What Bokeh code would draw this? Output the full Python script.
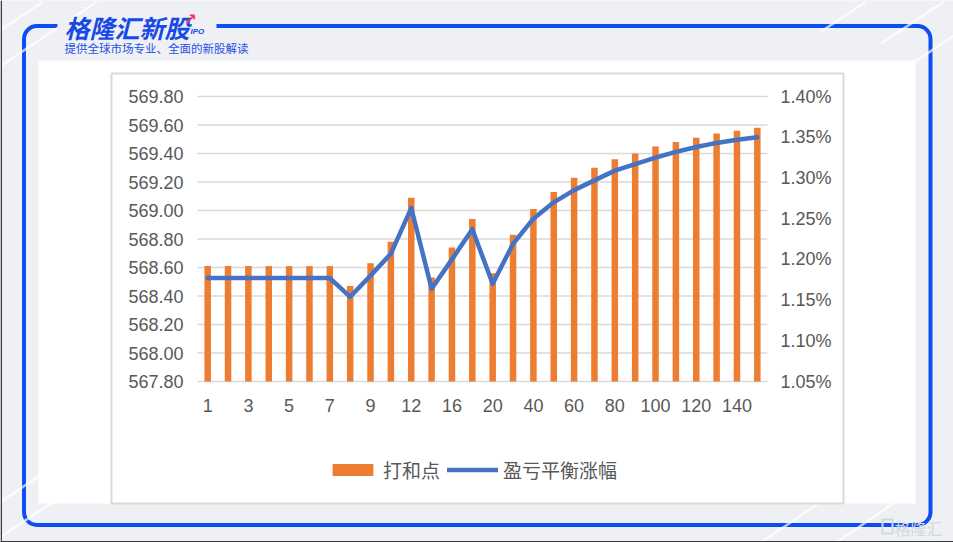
from bokeh.plotting import figure
from bokeh.models import (Range1d, LinearAxis, FixedTicker, PrintfTickFormatter, NumeralTickFormatter,
                          BoxAnnotation, Legend, LegendItem, ColumnDataSource)
from bokeh.core.properties import value
from bokeh.embed import file_html
from bokeh.resources import INLINE

# ---------------- data ----------------
categories = ["1", "2", "3", "4", "5", "6", "7", "8", "9", "10", "12", "14", "16", "18", "20",
              "30", "40", "50", "60", "70", "80", "90", "100", "110", "120", "130", "140", "150"]
break_even = [568.61, 568.61, 568.61, 568.61, 568.61, 568.61, 568.61, 568.47, 568.63, 568.78,
              569.09, 568.53, 568.74, 568.94, 568.56, 568.83, 569.01, 569.13, 569.23, 569.30,
              569.36, 569.40, 569.45, 569.48, 569.51, 569.54, 569.56, 569.58]
breakeven_pct = [1.177, 1.177, 1.177, 1.177, 1.177, 1.177, 1.177, 1.154, 1.180, 1.207,
                 1.263, 1.164, 1.200, 1.237, 1.170, 1.219, 1.250, 1.270, 1.285, 1.297,
                 1.309, 1.317, 1.325, 1.332, 1.338, 1.343, 1.347, 1.350]
left_ticks = [567.8, 568.0, 568.2, 568.4, 568.6, 568.8, 569.0, 569.2, 569.4, 569.6, 569.8]
right_ticks = [1.05, 1.10, 1.15, 1.20, 1.25, 1.30, 1.35, 1.40]
x_label_idx = list(range(0, len(categories), 2))
series_names = ["打和点", "盈亏平衡涨幅"]
logo_title = "格隆汇新股"
logo_sub = "提供全球市场专业、全面的新股解读"
watermark = "格隆汇"

# ---------------- page geometry ----------------
W, H = 953, 542
FL, FR, FT, FB = 197, 767, 96, 381          # plot area of the chart, in page pixels
BG = "#eef0f3"
GRAY_TXT = "#595959"
FONT = "Liberation Sans"
CJK = "Noto Sans CJK SC"

n = len(categories)
x0, x1 = -0.5, n - 0.5
y0, y1 = left_ticks[0], left_ticks[-1]
r0, r1 = right_ticks[0], right_ticks[-1]
kx = (x1 - x0) / (FR - FL)
ky = (y1 - y0) / (FB - FT)
kr = (r1 - r0) / (FB - FT)

p = figure(width=W, height=H, output_backend="svg", toolbar_location=None, title=None,
           x_range=Range1d(x0 - FL * kx, x1 + (W - FR) * kx),
           y_range=Range1d(y0 - (H - FB) * ky, y1 + FT * ky),
           min_border=0)
p.extra_x_ranges = {"px": Range1d(0, W)}
p.extra_y_ranges = {"py": Range1d(H, 0), "pct": Range1d(r0 - (H - FB) * kr, r1 + FT * kr)}
p.border_fill_color = BG
p.background_fill_color = BG
p.outline_line_color = None
p.xgrid.visible = False
p.ygrid.visible = False

PX = dict(x_range_name="px", y_range_name="py", level="underlay")

# ---------- page decoration (pixel coordinates) ----------
stripes = [(0, 28, 42, 0), (0, 64, 96, 0), (0, 500, 40, 473), (0, 535, 90, 475),
           (820, 30, 865, 0), (880, 42, 943, 0), (905, 66, 953, 34),
           (760, 541, 820, 500), (835, 541, 895, 500)]
p.patches(xs=[[a, c, c, a] for (a, b, c, d) in stripes],
          ys=[[b, d, d + 3, b + 3] for (a, b, c, d) in stripes],
          fill_color="white", fill_alpha=0.7, line_color=None, **PX)

p.add_layout(BoxAnnotation(left=23.5, right=930, top=H - 25.5, bottom=H - 524.5, border_radius=13,
                           left_units="screen", right_units="screen", top_units="screen",
                           bottom_units="screen", fill_alpha=0, line_color="#0d4df2",
                           line_alpha=1, line_width=4, level="image"))
p.quad(left=[38], right=[915], top=[60], bottom=[503], fill_color="white", line_color=None, **PX)
p.quad(left=[57], right=[216], top=[17], bottom=[34], fill_color=BG, line_color=None, **PX)
p.quad(left=[111], right=[843], top=[73], bottom=[503], fill_color="white",
       line_color="#d9d9d9", line_width=2, **PX)

p.text(x=[64], y=[26], text=[logo_title], text_font=value(CJK), text_font_style="bold italic",
       text_font_size="25px", text_color="#1749e6", text_baseline="middle", **PX)
p.text(x=[190], y=[31], text=["IPO"], text_font=value(FONT), text_font_style="bold italic",
       text_font_size="8px", text_color="#1749e6", text_baseline="middle", **PX)
p.text(x=[183], y=[19], text=["↗"], text_font=value("DejaVu Sans"), text_font_style="bold",
       text_font_size="16px", text_color="#f5356a", text_baseline="middle", **PX)
p.text(x=[64], y=[47.5], text=[logo_sub], text_font=value(CJK), text_font_size="11.5px",
       text_color="#1f4fe6", text_baseline="middle", **PX)
p.quad(left=[882], right=[892], top=[519], bottom=[533], fill_alpha=0, line_color="#d3d7de",
       line_width=2, **PX)
p.text(x=[894], y=[527], text=[watermark], text_font=value(CJK), text_font_size="16px",
       text_color="#d3d7de", text_baseline="middle", **PX)
p.quad(left=[0, 0], right=[1.5, W], top=[0, 540.5], bottom=[H, H], fill_color="#3a3a3a",
       line_color=None, **PX)

# ---------------- chart marks ----------------
src = ColumnDataSource(dict(x=list(range(n)), top=break_even, pct=breakeven_pct))

p.segment(x0=x0, x1=x1, y0=left_ticks, y1=left_ticks, line_color="#d9d9d9", line_width=1.5)
bars = p.vbar(x="x", top="top", bottom=y0, width=0.32, source=src,
              fill_color="#ed7d31", line_color=None)
line = p.line(x="x", y="pct", source=src, y_range_name="pct", line_width=4.5,
              line_color="#4472c4", line_join="round", line_cap="round")

# ---------------- axes ----------------
p.xaxis.ticker = FixedTicker(ticks=x_label_idx)
p.xaxis.major_label_overrides = {i: categories[i] for i in x_label_idx}
p.xaxis.fixed_location = y0
p.yaxis.ticker = FixedTicker(ticks=left_ticks)
p.yaxis.formatter = NumeralTickFormatter(format="0.00")
p.yaxis.fixed_location = x0
rax = LinearAxis(y_range_name="pct", ticker=FixedTicker(ticks=right_ticks),
                 formatter=PrintfTickFormatter(format="%.2f%%"), fixed_location=x1)
p.add_layout(rax, "right")

for ax, so in [(p.xaxis[0], 17), (p.yaxis[0], 14), (rax, 13)]:
    ax.axis_line_color = None
    ax.major_tick_line_color = None
    ax.minor_tick_line_color = None
    ax.major_tick_out = 0
    ax.major_tick_in = 0
    ax.major_label_standoff = so
    ax.major_label_text_font = FONT
    ax.major_label_text_font_size = "18px"
    ax.major_label_text_color = GRAY_TXT

legend = Legend(items=[LegendItem(label=series_names[0], renderers=[bars]),
                       LegendItem(label=series_names[1], renderers=[line])],
                orientation="horizontal", location=(327, H - 483),
                glyph_width=51, glyph_height=15, label_standoff=5, spacing=7,
                padding=0, margin=0, border_line_color=None, background_fill_alpha=0,
                label_text_font=CJK, label_text_font_size="19px", label_text_color=GRAY_TXT,
                label_height=22)
p.add_layout(legend)

open("out.html", "w").write(file_html(p, INLINE))
